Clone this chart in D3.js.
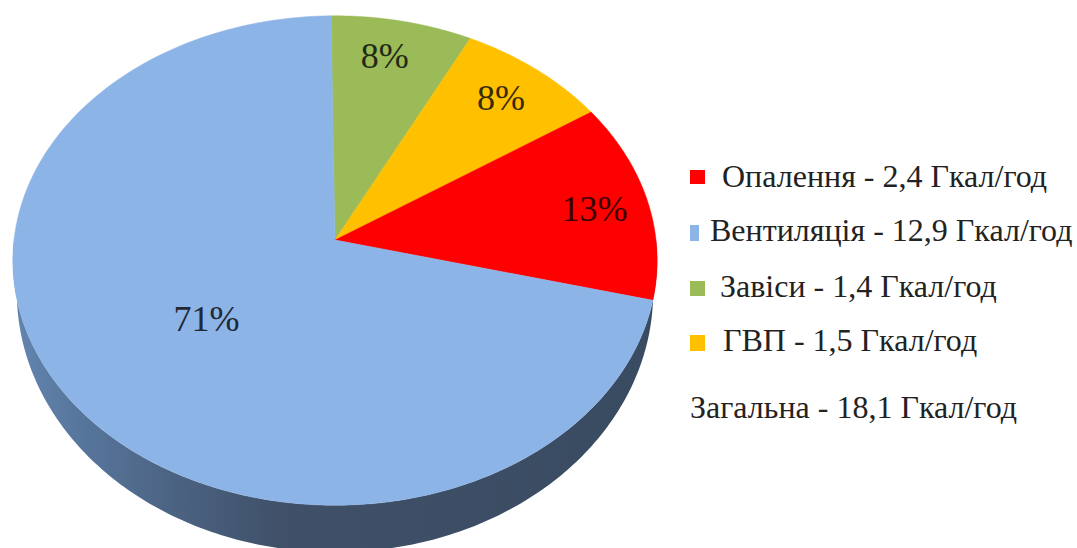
<!DOCTYPE html>
<html lang="uk">
<head>
<meta charset="utf-8">
<script src="https://cdn.jsdelivr.net/npm/d3@7"></script>
<style>
  html, body { margin: 0; background: #fff; }
  svg { display: block; }
  text { font-family: "Liberation Serif", serif; fill: #222; }
</style>
</head>
<body>
<svg id="chart" width="1077" height="548"></svg>
<script>
// Heat demand by consumer, Gcal/h, clockwise from twelve o'clock
const sliceNames = ["Завіси", "ГВП", "Опалення", "Вентиляція"];
const sliceValues = [1.4, 1.5, 2.4, 12.9];
const sliceColors = ["#9BBB59", "#FFC000", "#FF0000", "#8DB4E6"];
const sliceLabels = ["8%", "8%", "13%", "71%"];

// Legend rows, top to bottom
const legendNames = ["Опалення", "Вентиляція", "Завіси", "ГВП"];
const totalName = "Загальна";
const totalValue = 18.1;
const unit = "Гкал/год";

const fmt = v => d3.format(".1f")(v).replace(".", ",");
const svg = d3.select("#chart");

// Tilted disc: a projective map from the unit circle onto the screen
const apex = { x: 335, y: 240 };
const spanX = 321, spanY = 243, tilt = 0.0838;
const project = (angle, r = 1) => {
  const u = r * Math.sin(angle), v = r * Math.cos(angle);
  const w = 1 + tilt * v;
  return [apex.x + spanX * u / w, apex.y - spanY * v / w];
};

// The first slice starts a hair before twelve o'clock
const startAt = -0.0134;
const pie = d3.pie().sort(null).value(d => d.value)
  .startAngle(startAt).endAngle(startAt + 2 * Math.PI);
const arcs = pie(sliceNames.map((name, i) => ({
  name, value: sliceValues[i], color: sliceColors[i], label: sliceLabels[i]
})));

const line = d3.line();
const sweep = (a0, a1, n = 160) => d3.range(n + 1).map(i => a0 + (a1 - a0) * i / n);

// Side wall, lit from the left
const defs = svg.append("defs");
const wallGrad = defs.append("linearGradient")
  .attr("id", "wall").attr("gradientUnits", "userSpaceOnUse")
  .attr("x1", 12).attr("x2", 657).attr("y1", 0).attr("y2", 0);
[[0, "#6385AF"], [0.12, "#56749A"], [0.27, "#4A617F"], [0.42, "#3F5068"], [1, "#394B61"]]
  .forEach(([o, c]) => wallGrad.append("stop").attr("offset", o).attr("stop-color", c));

// The lower rim is the upper rim's ellipse, slightly narrower and deeper, moved down
const rim = { cx: 335, cy: 260, rx: 322, ry: 245 };
const lowerRim = { cy: 292, rx: 318, ry: 260 };
const toLowerRim = ([x, y]) => [
  rim.cx + (x - rim.cx) * lowerRim.rx / rim.rx,
  lowerRim.cy + (y - rim.cy) * lowerRim.ry / rim.ry
];
const wallEdge = sweep(Math.PI * 0.5, Math.PI * 1.5, 240);
const wallTop = wallEdge.map(a => project(a));
const wallBottom = wallTop.map(toLowerRim).reverse();
svg.append("path")
  .attr("d", line(wallTop.concat(wallBottom)) + "Z")
  .attr("fill", "url(#wall)");

// Top face slices
svg.selectAll("path.slice")
  .data(arcs)
  .join("path")
  .attr("class", "slice")
  .attr("fill", d => d.data.color)
  .attr("stroke", d => d.data.color)
  .attr("stroke-width", 0.5)
  .attr("d", d => line([[apex.x, apex.y], ...sweep(d.startAngle, d.endAngle).map(a => project(a))]) + "Z");

// Percent labels inside the slices, in a dark shade of their slice colour
const labelRadius = [0.82, 0.8, 0.82, 0.52];
const labelNudge = [[-6, -2], [3, -4], [3, 2], [6, -2]];
svg.selectAll("text.pct")
  .data(arcs)
  .join("text")
  .attr("class", "pct")
  .attr("text-anchor", "middle")
  .attr("dominant-baseline", "central")
  .attr("font-size", 36)
  .style("fill", d => d3.interpolateRgb(d.data.color, "#000")(0.78))
  .attr("transform", (d, i) => {
    const [x, y] = project((d.startAngle + d.endAngle) / 2, labelRadius[i]);
    return `translate(${x + labelNudge[i][0]},${y + labelNudge[i][1]})`;
  })
  .text(d => d.data.label);

// Legend
const legendX = 690;
const legendRows = [
  { swatch: [15, 14], top: 170, textX: 722, base: 187 },
  { swatch: [9, 16], top: 225, textX: 710, base: 241 },
  { swatch: [15, 15], top: 281, textX: 720, base: 297 },
  { swatch: [15, 16], top: 335, textX: 723, base: 351 }
];
legendNames.forEach((name, i) => {
  const k = sliceNames.indexOf(name);
  const row = legendRows[i];
  svg.append("rect")
    .attr("x", legendX).attr("y", row.top)
    .attr("width", row.swatch[0]).attr("height", row.swatch[1])
    .attr("fill", sliceColors[k]);
  svg.append("text")
    .attr("x", row.textX).attr("y", row.base)
    .attr("font-size", 32)
    .text(`${name} - ${fmt(sliceValues[k])} ${unit}`);
});
svg.append("text")
  .attr("x", legendX).attr("y", 418)
  .attr("font-size", 32)
  .text(`${totalName} - ${fmt(totalValue)} ${unit}`);
</script>
</body>
</html>
